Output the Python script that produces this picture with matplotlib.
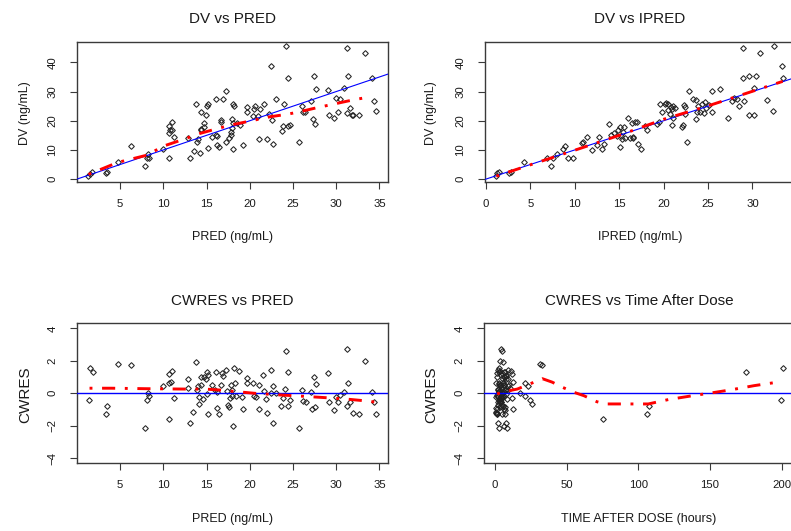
import numpy as np
import matplotlib
matplotlib.use("Agg")
from matplotlib import pyplot as plt

plt.rcParams['font.family'] = ['Liberation Sans', 'DejaVu Sans']

# DV vs PRED
pred_dv = [1.33, 1.5, 1.75, 3.3, 3.5, 4.7, 6.2, 7.9, 8.15, 8.35, 8.25, 10.0, 10.6, 10.7, 10.8,
           11.0, 11.05, 11.2, 10.6, 12.8, 13.1, 13.5, 13.8, 13.85, 14.0, 14.2, 14.3, 14.35, 14.4,
           14.65, 14.7, 14.9, 15.1, 15.15, 15.15, 15.6, 16.1, 16.1, 16.2, 16.15, 16.4, 16.7, 16.7,
           16.9, 17.3, 17.3, 17.6, 17.8, 17.8, 17.9, 18.0, 18.1, 18.1, 18.2, 18.1, 18.5, 18.9,
           19.2, 19.65, 19.7, 20.4, 20.5, 20.6, 20.95, 21.1, 21.2, 21.6, 22.0, 22.2, 22.45, 22.55,
           22.7, 23.0, 23.7, 23.85, 24.0, 24.25, 24.4, 24.45, 24.7, 25.7, 26.0, 26.15, 26.4, 27.1,
           27.4, 27.3, 27.6, 27.65, 29.1, 29.2, 29.7, 30.0, 30.2, 30.5, 30.95, 31.25, 31.25, 31.4,
           31.55, 31.8, 32.0, 32.65, 33.3, 34.15, 34.4, 34.65]
dv = [1.14, 1.9, 2.3, 2.2, 2.5, 5.8, 11.4, 4.5, 7.3, 7.3, 8.5, 10.3, 18.2, 15.8, 17.0,
      19.5, 16.9, 14.3, 7.2, 14.2, 7.3, 9.7, 25.9, 12.6, 13.6, 9.0, 16.8, 23.1, 17.1,
      19.1, 17.9, 21.9, 24.9, 25.6, 10.5, 14.5, 27.4, 15.1, 14.7, 11.7, 10.9, 20.2, 19.7,
      27.3, 30.3, 12.8, 14.1, 15.1, 16.2, 17.4, 20.6, 10.3, 25.6, 25.0, 19.1, 19.1, 18.5,
      11.8, 23.1, 24.6, 21.7, 23.9, 25.0, 21.6, 13.6, 24.0, 25.8, 13.6, 22.3, 38.9, 20.2,
      12.2, 27.3, 16.6, 18.2, 25.9, 45.6, 34.6, 18.2, 18.5, 12.8, 25.0, 23.1, 23.0, 26.7,
      35.2, 20.6, 18.9, 30.9, 30.5, 21.9, 20.8, 27.9, 22.9, 27.5, 31.2, 44.9, 22.5, 35.2,
      24.2, 21.9, 21.8, 21.9, 43.3, 34.6, 26.9, 23.2]
smooth_pred = [1.33, 4.7, 8.1, 10.0, 12.3, 14.3, 16.6, 18.1, 20.5, 22.4, 24.3, 25.8, 27.8, 29.7, 31.25, 32.4, 33.6]
smooth_dv = [1.6, 5.7, 8.2, 11.3, 13.6, 15.7, 17.6, 18.7, 20.2, 21.4, 22.2, 23.1, 24.5, 25.7, 26.7, 27.4, 28.0]

# DV vs IPRED
ipred = [1.16, 1.28, 1.46, 2.55, 2.8, 4.28, 6.83, 7.36, 7.5, 7.96, 8.7, 8.86, 9.2, 9.76, 10.78,
         10.97, 11.4, 11.9, 12.47, 12.73, 13.07, 13.3, 13.8, 14.04, 14.46, 14.72, 14.9, 15.1,
         15.1, 15.2, 15.3, 15.4, 15.55, 15.66, 16.0, 16.2, 16.4, 16.5, 16.6, 16.8, 16.97, 17.1,
         17.5, 17.87, 18.1, 19.3, 19.5, 19.6, 19.8, 20.1, 20.3, 20.5, 20.5, 20.7, 20.8, 20.9,
         20.9, 21.0, 21.1, 21.3, 22.04, 22.15, 22.3, 22.4, 22.46, 22.6, 22.8, 23.3, 23.6, 23.6,
         23.7, 23.9, 24.1, 24.3, 24.5, 24.7, 24.8, 25.05, 25.5, 25.5, 26.4, 27.3, 27.7, 27.9,
         28.3, 28.5, 28.9, 28.9, 29.07, 29.6, 29.6, 30.2, 30.2, 30.4, 30.9, 31.6, 32.3, 32.4,
         33.3, 33.4]
dv_i = [1.14, 1.94, 2.4, 1.94, 2.4, 5.83, 7.3, 4.46, 7.3, 8.57, 10.3, 11.4, 7.3, 7.3, 12.46,
        12.57, 14.3, 9.94, 11.66, 14.5, 10.4, 11.9, 19.0, 15.2, 15.66, 14.74, 16.8, 17.9,
        11.1, 14.74, 13.6, 16.2, 17.9, 14.2, 20.8, 14.0, 19.3, 14.0, 14.5, 19.4, 19.4, 12.2,
        10.3, 18.2, 16.8, 18.9, 19.4, 25.6, 23.1, 25.9, 26.2, 25.6, 23.7, 22.2, 24.8, 23.9,
        18.5, 20.8, 25.0, 24.2, 17.9, 18.5, 25.4, 24.8, 22.3, 12.8, 30.3, 27.4, 20.6, 27.1,
        22.9, 25.0, 23.1, 25.9, 22.5, 26.5, 24.2, 25.4, 30.3, 23.1, 30.9, 20.8, 26.7, 27.7,
        27.4, 25.0, 44.9, 34.5, 26.9, 21.9, 35.2, 21.9, 31.3, 35.2, 43.3, 27.2, 23.2, 45.6,
        38.9, 34.6]
smooth_ipred = [1.16, 5.0, 10.0, 15.0, 20.0, 25.0, 30.0, 33.4]
smooth_dv_i = [1.0, 4.9, 9.9, 15.0, 20.5, 25.1, 30.1, 33.5]

# CWRES vs PRED
pred_cw = [1.45, 1.8, 1.35, 3.3, 3.5, 4.7, 6.2, 7.9, 8.1, 8.25, 8.35, 10.0, 10.6, 10.6, 10.7,
           10.9, 11.0, 11.2, 12.8, 12.9, 13.1, 13.4, 13.8, 13.9, 14.0, 14.1, 14.1, 14.3, 14.35,
           14.6, 14.7, 14.9, 15.0, 15.1, 15.15, 15.2, 15.6, 16.0, 16.1, 16.15, 16.2, 16.45, 16.7,
           16.8, 16.9, 17.3, 17.35, 17.5, 17.6, 17.75, 17.8, 17.9, 18.0, 18.1, 18.15, 18.25, 18.4,
           18.8, 19.1, 19.2, 19.65, 19.7, 20.4, 20.5, 20.7, 21.05, 21.1, 21.55, 21.7, 21.85, 22.0,
           22.45, 22.5, 22.7, 22.7, 23.0, 23.65, 23.9, 24.05, 24.25, 24.4, 24.45, 24.6, 25.7, 26.0,
           26.15, 26.5, 27.1, 27.2, 27.4, 27.5, 27.65, 29.1, 29.2, 29.7, 30.0, 30.2, 30.5, 30.95,
           31.25, 31.25, 31.4, 31.55, 31.95, 32.7, 33.3, 34.15, 34.4, 34.65]
cwres = [1.54, 1.29, -0.39, -1.27, -0.8, 1.78, 1.72, -2.13, -0.39, 0.02, -0.18, 0.47, 1.19, -1.58,
         0.64, 0.72, 1.37, -0.31, 0.35, 0.88, -1.83, -1.17, 1.91, 0.2, 0.43, -0.66, -0.25, 0.98,
         0.51, -0.35, 0.98, 0.9, -0.02, 1.29, 1.13, -1.31, 0.51, 0.2, 1.29, -0.9, 0.06, -1.31,
         0.51, 1.23, 1.05, 1.44, 0.12, -0.72, -0.82, -0.31, 0.51, 0.18, -0.14, -1.99, 1.54, 0.64,
         -0.14, 1.35, -0.25, -0.96, 0.92, 0.64, 0.64, -0.14, -0.25, -0.96, 0.51, 1.13, 0.12, -0.35,
         -1.21, 1.46, 0.0, 0.43, -1.81, 0.02, -0.8, -0.31, 0.27, 2.63, 1.29, -0.76, -0.43, -2.15,
         0.23, -0.47, -0.55, 0.1, -0.96, 1.03, -0.82, 0.57, 1.25, -0.55, -1.03, -0.25, -0.55, -0.1,
         0.06, 2.73, -0.8, 0.64, -0.51, -1.23, -1.27, 2.01, 0.06, -0.51, -1.27]
smooth_pred_cw = [1.45, 4.0, 8.0, 12.0, 15.0, 16.5, 18.0, 20.5, 23.0, 26.0, 29.0, 31.0, 33.0, 34.65]
smooth_cw = [0.31, 0.31, 0.28, 0.26, 0.25, 0.2, 0.12, 0.0, -0.09, -0.18, -0.28, -0.35, -0.45, -0.55]

# CWRES vs TAD (same order as cwres)
tad = [200.7, 175.1, 199.5, 106.3, 107.2, 31.2, 32.6, 8.6, 24.2, 17.4, 20.9, 23.3, 11.5, 75.1,
       20.7, 12.3, 11.0, 12.0, 10.2, 9.0, 7.7, 0.8, 5.8, 9.4, 8.8, 25.8, 1.0, 7.0, 9.6, 8.2,
       6.4, 7.9, 8.0, 6.9, 7.5, 1.2, 6.1, 7.2, 6.6, 0.9, 6.3, 1.5, 5.9, 5.2, 7.8, 9.2, 5.5,
       1.8, 6.8, 5.0, 4.3, 7.4, 6.0, 6.5, 2.6, 5.3, 4.6, 3.2, 5.7, 1.4, 4.9, 3.0, 5.6, 2.2,
       4.1, 6.2, 3.7, 4.4, 2.8, 3.5, 0.7, 2.4, 4.8, 3.3, 2.3, 5.1, 4.5, 3.9, 2.0, 4.7, 2.9,
       5.4, 3.1, 3.0, 1.9, 3.6, 4.2, 2.5, 12.8, 1.7, 3.4, 2.7, 1.3, 4.0, 6.7, 2.1, 3.8, 1.6,
       4.4, 4.0, 5.6, 0.6, 3.2, 1.1, 7.3, 3.5, 2.6, 1.8, 4.9]
smooth_tad = [1.4, 8, 15.6, 25, 33, 40, 47, 55, 62, 71, 77, 94, 107, 121, 138, 151, 164, 181, 197]
smooth_cw_tad = [-0.04, 0.12, 0.26, 0.6, 0.9, 0.68, 0.37, 0.06, -0.15, -0.52, -0.66, -0.66, -0.66,
                 -0.39, -0.15, 0.02, 0.2, 0.47, 0.68]

W, H = 791, 531
TXT = '#1a1a1a'
EDGE = '#3a3a3a'
fig = plt.figure(figsize=(W / 100, H / 100), dpi=100)


def panel(left, top, xlim, ylim, xticks, yticks):
    # boxes are placed in pixels; the right column runs past the figure edge like the original
    ax = fig.add_axes([left / W, 1 - (top + 140) / H, 311 / W, 140 / H])
    ax.set_xlim(xlim)
    ax.set_ylim(ylim)
    ax.set_xticks(xticks)
    ax.set_yticks(yticks)
    for s in ax.spines.values():
        s.set_color(EDGE)
        s.set_linewidth(1.0)
    ax.tick_params(direction='out', length=5, width=0.8, color=EDGE,
                   labelsize=8.2, labelcolor=TXT)
    ax.tick_params(axis='x', pad=7.5)
    ax.tick_params(axis='y', pad=9, labelrotation=90)
    for lab in ax.get_yticklabels():
        lab.set_va('center')
    return ax


def points(ax, x, y):
    ax.plot(x, y, ls='none', marker='D', ms=2.9, mfc='none', mec='#222222', mew=0.75, zorder=2)


def smooth(ax, x, y):
    ax.plot(x, y, color='red', lw=2.1, ls=(0, (1, 3.3, 4.5, 3.3)), zorder=4)


def labels(cx, cy, title, xlab, lx, ylab, ysize):
    # text positions in display pixels, measured from the top
    fig.text(cx, H - cy, title, transform=None, ha='center', va='center', fontsize=11, color=TXT)
    fig.text(cx, H - (cy + 218), xlab, transform=None, ha='center', va='center', fontsize=9, color=TXT)
    fig.text(lx, H - (cy + 94), ylab, transform=None, ha='center', va='center', rotation=90,
             fontsize=ysize, color=TXT)


ax1 = panel(77, 42, (0.0, 36.0), (-1.0, 47.0), [5, 10, 15, 20, 25, 30, 35], [0, 10, 20, 30, 40])
points(ax1, pred_dv, dv)
ax1.axline((0, 0), slope=1, color='blue', lw=0.8, zorder=3)
smooth(ax1, smooth_pred, smooth_dv)

ax2 = panel(485, 42, (-0.11, 34.9), (-1.0, 47.0), [0, 5, 10, 15, 20, 25, 30], [0, 10, 20, 30, 40])
points(ax2, ipred, dv_i)
ax2.axline((0, 0), slope=1, color='blue', lw=0.8, zorder=3)
smooth(ax2, smooth_ipred, smooth_dv_i)

ax3 = panel(77, 323, (0.0, 36.0), (-4.3, 4.33), [5, 10, 15, 20, 25, 30, 35], [-4, -2, 0, 2, 4])
points(ax3, pred_cw, cwres)
ax3.axhline(0, color='blue', lw=1.0, zorder=3)
smooth(ax3, smooth_pred_cw, smooth_cw)

ax4 = panel(484, 323, (-7.7, 209.4), (-4.3, 4.33), [0, 50, 100, 150, 200], [-4, -2, 0, 2, 4])
points(ax4, tad, cwres)
ax4.axhline(0, color='blue', lw=1.0, zorder=3)
smooth(ax4, smooth_tad, smooth_cw_tad)

labels(232.5, 19, 'DV vs PRED', 'PRED (ng/mL)', 25, 'DV (ng/mL)', 9)
labels(640, 19, 'DV vs IPRED', 'IPRED (ng/mL)', 431, 'DV (ng/mL)', 9)
labels(232.5, 301, 'CWRES vs PRED', 'PRED (ng/mL)', 25, 'CWRES', 11)
labels(639, 301, 'CWRES vs Time After Dose', 'TIME AFTER DOSE (hours)', 431, 'CWRES', 11)

fig.savefig('out.png', dpi=100)
